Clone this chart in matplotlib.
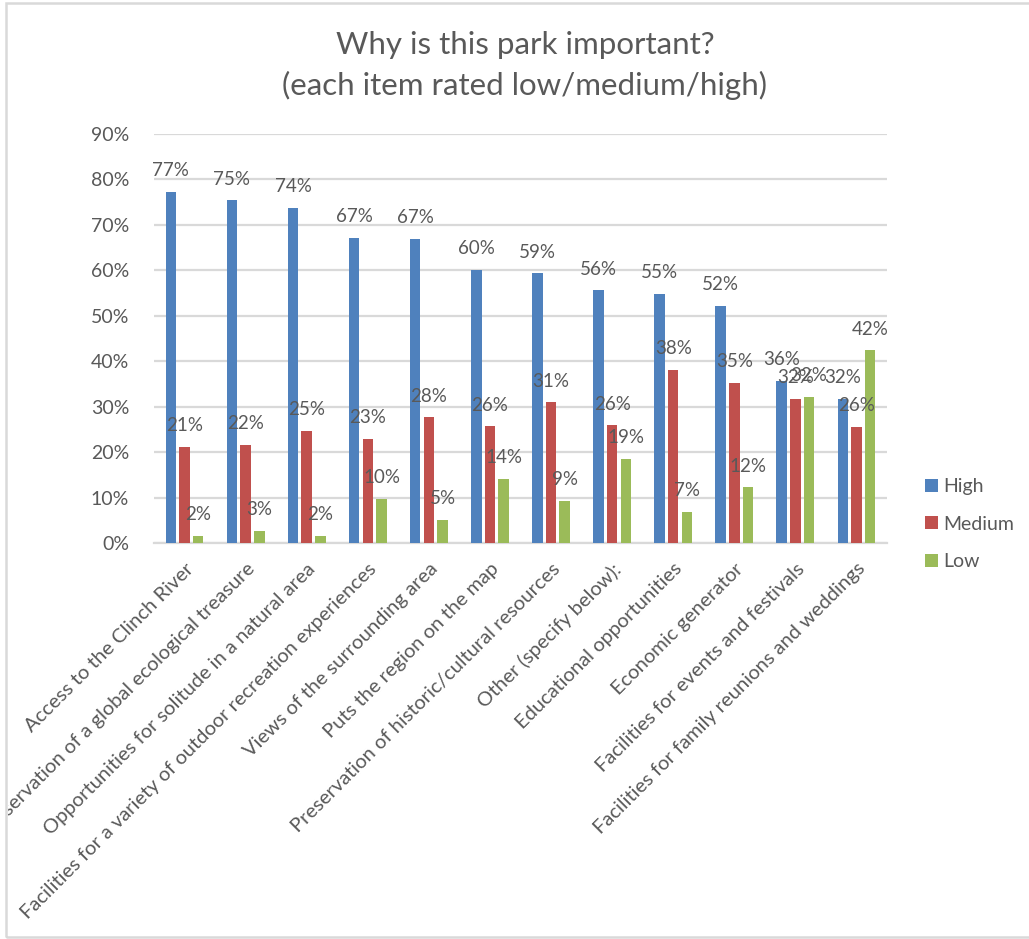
import numpy as np
import matplotlib.pyplot as plt
from matplotlib.patches import Rectangle
from matplotlib.transforms import Bbox, TransformedBbox

# survey answers, percent of respondents
categories = [
    "Access to the Clinch River",
    "Preservation of a global ecological treasure",
    "Opportunities for solitude in a natural area",
    "Facilities for a variety of outdoor recreation experiences",
    "Views of the surrounding area",
    "Puts the region on the map",
    "Preservation of historic/cultural resources",
    "Other (specify below):",
    "Educational opportunities",
    "Economic generator",
    "Facilities for events and festivals",
    "Facilities for family reunions and weddings",
]
high = [77.3, 75.4, 73.7, 67.2, 66.9, 60.1, 59.3, 55.6, 54.8, 52.2, 35.7, 31.8]
medium = [21.2, 21.6, 24.7, 22.9, 27.7, 25.7, 31.0, 25.9, 38.1, 35.2, 31.7, 25.6]
low = [1.6, 2.7, 1.6, 9.7, 5.2, 14.1, 9.3, 18.6, 6.9, 12.3, 32.2, 42.4]
series_names = ["High", "Medium", "Low"]
yticks = [0, 10, 20, 30, 40, 50, 60, 70, 80, 90]

colors = ["#4F81BD", "#C0504D", "#9BBB59"]
txt = "#595959"
grid = "#D9D9D9"

plt.rcParams['font.family'] = ['Lato', 'DejaVu Sans']

W, H = 1029, 939
fig = plt.figure(figsize=(W / 100, H / 100), dpi=100)
ax = fig.add_axes([154 / W, 0.4214, 733 / W, 0.4361])

x = np.arange(len(categories))
bw = 0.172
step = 0.224
for k, (vals, name, c) in enumerate(zip([high, medium, low], series_names, colors)):
    xs = x + (k - 1) * step
    ax.bar(xs, vals, width=bw, color=c, label=name, zorder=3)
    for xi, v in zip(xs, vals):
        ax.annotate(f"{round(v)}%", (xi, v), xytext=(0, 11.3), textcoords='offset points',
                    ha='center', va='baseline', fontsize=13.5, color=txt, zorder=4)

ax.set_xlim(-0.5, len(categories) - 0.5)
ax.set_ylim(0, 90)
ax.set_yticks(yticks)
ax.set_yticklabels([f"{t}%" for t in yticks], fontsize=14, color=txt)
ax.yaxis.grid(True, color=grid, linewidth=1.6, zorder=0)
ax.tick_params(axis='y', length=0, pad=18)
ax.tick_params(axis='x', length=0, pad=12)
ax.set_xticks(x)
ax.set_xticklabels(categories, rotation=45, ha='right', rotation_mode='anchor',
                   fontsize=14.5, color=txt)
for s in ['top', 'right', 'left']:
    ax.spines[s].set_visible(False)
ax.spines['bottom'].set_color(grid)
ax.spines['bottom'].set_linewidth(1.6)

# the left border cuts off the long label
clip = TransformedBbox(Bbox([[8 / W, 0], [1, 1]]), fig.transFigure)
for lab in ax.get_xticklabels():
    lab.set_clip_on(True)
    lab.set_clip_box(clip)

fig.text(525 / W, 1 - 45 / H, "Why is this park important?", ha='center', va='center',
         fontsize=22.5, color=txt)
fig.text(525 / W, 1 - 85 / H, "(each item rated low/medium/high)", ha='center', va='center',
         fontsize=22.5, color=txt)

ax.legend(loc='center left', bbox_to_anchor=(925 / W, 1 - 524 / H),
          bbox_transform=fig.transFigure, frameon=False, fontsize=14,
          handlelength=0.65, handleheight=0.65, handletextpad=0.3,
          labelspacing=1.05, borderpad=0, borderaxespad=0, labelcolor=txt)

# chart border
fig.patches.append(Rectangle((6 / W, 2 / H), 1.1, 1 - 5 / H, transform=fig.transFigure,
                             fill=False, edgecolor=grid, linewidth=1.8))

fig.savefig("out.png", dpi=100)
